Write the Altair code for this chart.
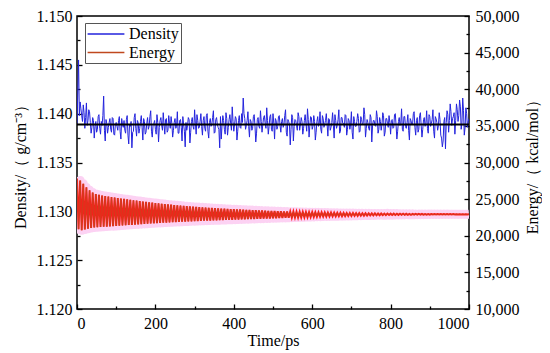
import altair as alt
import pandas as pd

# ---------------- data ----------------
# density sampled every 4 ps (t = 0, 4, ..., 1000)
time_density = list(range(0, 1001, 4))
density = [
    1.1390, 1.1455, 1.1412, 1.1398, 1.1409, 1.1385, 1.1411, 1.1393, 1.1402, 1.1380,
    1.1396, 1.1375, 1.1392, 1.1384, 1.1399, 1.1379, 1.1388, 1.1418, 1.1372, 1.1390,
    1.1386, 1.1395, 1.1381, 1.1395, 1.1378, 1.1391, 1.1383, 1.1397, 1.1374, 1.1389,
    1.1393, 1.1380, 1.1398, 1.1369, 1.1387, 1.1365, 1.1382, 1.1400, 1.1377, 1.1391,
    1.1385, 1.1398, 1.1373, 1.1392, 1.1381, 1.1396, 1.1387, 1.1403, 1.1376, 1.1390,
    1.1384, 1.1399, 1.1371, 1.1393, 1.1388, 1.1401, 1.1379, 1.1395, 1.1383, 1.1390,
    1.1397, 1.1376, 1.1391, 1.1385, 1.1402, 1.1380, 1.1394, 1.1372, 1.1389, 1.1366,
    1.1383, 1.1396, 1.1370, 1.1392, 1.1387, 1.1404, 1.1379, 1.1393, 1.1386, 1.1400,
    1.1378, 1.1397, 1.1382, 1.1400, 1.1375, 1.1395, 1.1389, 1.1403, 1.1381, 1.1396,
    1.1386, 1.1365, 1.1374, 1.1398, 1.1384, 1.1401, 1.1378, 1.1394, 1.1390, 1.1407,
    1.1382, 1.1397, 1.1373, 1.1393, 1.1386, 1.1400, 1.1416, 1.1395, 1.1388, 1.1402,
    1.1376, 1.1392, 1.1385, 1.1399, 1.1371, 1.1394, 1.1387, 1.1403, 1.1381, 1.1396,
    1.1390, 1.1406, 1.1379, 1.1397, 1.1384, 1.1400, 1.1374, 1.1393, 1.1387, 1.1398,
    1.1381, 1.1395, 1.1389, 1.1404, 1.1377, 1.1392, 1.1368, 1.1399, 1.1372, 1.1394,
    1.1388, 1.1401, 1.1383, 1.1396, 1.1379, 1.1393, 1.1390, 1.1405, 1.1376, 1.1397,
    1.1384, 1.1398, 1.1373, 1.1392, 1.1387, 1.1402, 1.1380, 1.1395, 1.1389, 1.1400,
    1.1377, 1.1394, 1.1386, 1.1401, 1.1375, 1.1393, 1.1388, 1.1404, 1.1382, 1.1396,
    1.1390, 1.1399, 1.1378, 1.1395, 1.1384, 1.1402, 1.1374, 1.1392, 1.1387, 1.1400,
    1.1381, 1.1397, 1.1389, 1.1406, 1.1376, 1.1394, 1.1385, 1.1399, 1.1371, 1.1393,
    1.1388, 1.1403, 1.1380, 1.1396, 1.1383, 1.1401, 1.1377, 1.1395, 1.1390, 1.1398,
    1.1379, 1.1394, 1.1386, 1.1400, 1.1374, 1.1392, 1.1388, 1.1405, 1.1382, 1.1397,
    1.1385, 1.1399, 1.1373, 1.1393, 1.1389, 1.1402, 1.1378, 1.1396, 1.1384, 1.1401,
    1.1376, 1.1394, 1.1387, 1.1403, 1.1380, 1.1397, 1.1390, 1.1404, 1.1375, 1.1395,
    1.1383, 1.1401, 1.1378, 1.1366, 1.1392, 1.1364, 1.1403, 1.1381, 1.1410, 1.1388,
    1.1397, 1.1379, 1.1410, 1.1392, 1.1414, 1.1384, 1.1416, 1.1378, 1.1406, 1.1386,
    1.1395,
]
# density between those samples (t = 2, 6, ..., 998)
time_density_mid = list(range(2, 1000, 4))
density_mid = [
    1.1420, 1.1398, 1.1405, 1.1392, 1.1401, 1.1396, 1.1388, 1.1404, 1.1391, 1.1386,
    1.1393, 1.1387, 1.1381, 1.1397, 1.1385, 1.1392, 1.1398, 1.1383, 1.1394, 1.1380,
    1.1391, 1.1384, 1.1396, 1.1379, 1.1390, 1.1387, 1.1393, 1.1382, 1.1395, 1.1386,
    1.1383, 1.1394, 1.1378, 1.1389, 1.1392, 1.1381, 1.1396, 1.1385, 1.1393, 1.1380,
    1.1392, 1.1386, 1.1395, 1.1379, 1.1390, 1.1384, 1.1397, 1.1382, 1.1388, 1.1393,
    1.1379, 1.1391, 1.1386, 1.1396, 1.1383, 1.1389, 1.1394, 1.1381, 1.1398, 1.1385,
    1.1390, 1.1383, 1.1395, 1.1387, 1.1380, 1.1393, 1.1386, 1.1397, 1.1382, 1.1391,
    1.1388, 1.1394, 1.1381, 1.1396, 1.1384, 1.1390, 1.1399, 1.1385, 1.1392, 1.1387,
    1.1393, 1.1385, 1.1398, 1.1382, 1.1391, 1.1387, 1.1396, 1.1380, 1.1394, 1.1389,
    1.1384, 1.1397, 1.1388, 1.1393, 1.1379, 1.1395, 1.1386, 1.1399, 1.1383, 1.1392,
    1.1389, 1.1395, 1.1382, 1.1398, 1.1385, 1.1391, 1.1400, 1.1384, 1.1393, 1.1387,
    1.1394, 1.1383, 1.1397, 1.1388, 1.1380, 1.1396, 1.1385, 1.1392, 1.1389, 1.1398,
    1.1385, 1.1393, 1.1387, 1.1399, 1.1382, 1.1390, 1.1395, 1.1384, 1.1397, 1.1388,
    1.1392, 1.1386, 1.1398, 1.1381, 1.1394, 1.1389, 1.1384, 1.1396, 1.1387, 1.1393,
    1.1383, 1.1397, 1.1389, 1.1392, 1.1385, 1.1399, 1.1382, 1.1394, 1.1388, 1.1396,
    1.1387, 1.1392, 1.1381, 1.1397, 1.1390, 1.1384, 1.1398, 1.1386, 1.1393, 1.1389,
    1.1395, 1.1383, 1.1391, 1.1388, 1.1399, 1.1385, 1.1394, 1.1380, 1.1396, 1.1390,
    1.1386, 1.1398, 1.1384, 1.1393, 1.1389, 1.1381, 1.1397, 1.1387, 1.1392, 1.1395,
    1.1382, 1.1394, 1.1390, 1.1399, 1.1385, 1.1391, 1.1383, 1.1396, 1.1388, 1.1393,
    1.1387, 1.1397, 1.1384, 1.1392, 1.1389, 1.1398, 1.1381, 1.1395, 1.1386, 1.1391,
    1.1393, 1.1385, 1.1399, 1.1388, 1.1382, 1.1396, 1.1390, 1.1384, 1.1397, 1.1387,
    1.1391, 1.1383, 1.1395, 1.1389, 1.1400, 1.1386, 1.1393, 1.1381, 1.1398, 1.1388,
    1.1384, 1.1396, 1.1390, 1.1385, 1.1399, 1.1387, 1.1394, 1.1382, 1.1397, 1.1391,
    1.1388, 1.1394, 1.1375, 1.1372, 1.1396, 1.1391, 1.1399, 1.1393, 1.1402, 1.1395,
    1.1401, 1.1393, 1.1404, 1.1398, 1.1407, 1.1390, 1.1403, 1.1386, 1.1400, 1.1392,
]
density_mean = [1.1389]

# energy oscillation: peaks (t = 0, 8, ..., 1000) and troughs (t = 4, 12, ..., 996)
energy_hi = [
    27800, 27550, 27100, 26600, 26200, 25900, 25700, 25600, 25500, 25420,
    25350, 25280, 25220, 25150, 25090, 25030, 24970, 24910, 24850, 24790,
    24730, 24680, 24620, 24570, 24520, 24470, 24420, 24370, 24330, 24280,
    24240, 24200, 24160, 24120, 24080, 24040, 24000, 23970, 23940, 23910,
    23880, 23850, 23820, 23790, 23760, 23740, 23710, 23690, 23660, 23640,
    23620, 23600, 23580, 23560, 23540, 23520, 23500, 23480, 23460, 23440,
    23420, 23400, 23390, 23370, 23350, 23340, 23320, 23310, 23290, 23280,
    23270, 23250, 23240, 23230, 23220, 23210, 23200, 23190, 23180, 23170,
    23160, 23150, 23140, 23130, 23120, 23110, 23100, 23095, 23090, 23080,
    23075, 23070, 23060, 23055, 23050, 23045, 23040, 23035, 23030, 23025,
    23020, 23015, 23010, 23005, 23000, 22995, 22990, 22985, 22980, 22978,
    22975, 22972, 22970, 22968, 22965, 22962, 22960, 22958, 22955, 22952,
    22950, 22948, 22946, 22944, 22942, 22940,
]
energy_lo = [
    20900, 20750, 20850, 20950, 21050, 21120, 21160, 21190, 21220, 21250,
    21280, 21310, 21340, 21370, 21400, 21430, 21460, 21490, 21520, 21550,
    21580, 21610, 21640, 21670, 21700, 21725, 21750, 21775, 21800, 21825,
    21850, 21870, 21890, 21910, 21930, 21950, 21970, 21990, 22010, 22030,
    22050, 22065, 22080, 22095, 22110, 22125, 22140, 22155, 22170, 22185,
    22200, 22215, 22230, 22245, 22260, 22275, 22290, 22305, 22320, 22335,
    22350, 22365, 22380, 22395, 22410, 22425, 22440, 22455, 22470, 22485,
    22500, 22515, 22530, 22545, 22560, 22575, 22590, 22605, 22620, 22630,
    22640, 22650, 22660, 22670, 22680, 22690, 22700, 22710, 22720, 22730,
    22740, 22750, 22760, 22770, 22780, 22790, 22800, 22810, 22820, 22830,
    22835, 22840, 22845, 22850, 22855, 22860, 22865, 22870, 22875, 22880,
    22885, 22890, 22892, 22894, 22896, 22898, 22900, 22902, 22904, 22906,
    22908, 22910, 22912, 22914, 22916,
]
time_hi = list(range(0, 1001, 8))
time_lo = list(range(4, 1000, 8))

series_names = ["Density", "Energy"]
x_labels = [0, 200, 400, 600, 800, 1000]
x_ticks = [0, 100, 200, 300, 400, 500, 600, 700, 800, 900, 1000]
density_labels = [1.120, 1.125, 1.130, 1.135, 1.140, 1.145, 1.150]
density_ticks = [1.1200, 1.1225, 1.1250, 1.1275, 1.1300, 1.1325, 1.1350,
                 1.1375, 1.1400, 1.1425, 1.1450, 1.1475, 1.1500]
energy_labels = [10000, 15000, 20000, 25000, 30000, 35000, 40000, 45000, 50000]
energy_ticks = [10000, 12500, 15000, 17500, 20000, 22500, 25000, 27500, 30000,
                32500, 35000, 37500, 40000, 42500, 45000, 47500, 50000]

# ---------------- tables ----------------
dens_df = pd.concat([
    pd.DataFrame({"t": time_density, "value": density}),
    pd.DataFrame({"t": time_density_mid, "value": density_mid}),
]).sort_values("t").reset_index(drop=True)
dens_df["series"] = series_names[0]
en_df = pd.concat([
    pd.DataFrame({"t": time_hi, "value": energy_hi}),
    pd.DataFrame({"t": time_lo, "value": energy_lo}),
]).sort_values("t").reset_index(drop=True)
en_df["series"] = series_names[1]
mean_df = pd.DataFrame({"t0": [x_labels[0]], "t1": [x_labels[-1]], "value": density_mean})

# ---------------- styling ----------------
W, H = 392, 293
FONT = "Liberation Serif"
FS = 16

x_scale = alt.Scale(domain=[0, 1000], nice=False, zero=False)
yd_scale = alt.Scale(domain=[1.12, 1.15], nice=False, zero=False)
ye_scale = alt.Scale(domain=[10000, 50000], nice=False, zero=False)
color_scale = alt.Scale(domain=series_names, range=["#2323dd", "#c0481e"])

legend = alt.Legend(
    title=None, orient="none", legendX=8, legendY=7,
    symbolType="M-2.3,0H2.3", symbolSize=256, symbolStrokeWidth=1.5,
    symbolOffset=10, labelOffset=14,
    labelFontSize=FS, labelFont=FONT, labelColor="black",
    padding=2, rowPadding=1.5,
    strokeColor="#555555", fillColor="white", labelLimit=200,
)

common = dict(grid=False, labelFont=FONT, titleFont=FONT, labelFontSize=FS,
              titleFontSize=FS, labelColor="black", titleColor="black",
              titleFontWeight="normal", labelOverlap=False)

ax_x_main = alt.Axis(orient="bottom", values=x_labels, format="d", ticks=False,
                     domain=False, labelPadding=6, title="Time/ps", titlePadding=1,
                     **common)
ax_yd_main = alt.Axis(orient="left", values=density_labels, format=".3f", ticks=False,
                      domain=False, labelPadding=5, title="Density/（ g/cm⁻³）",
                      titlePadding=8, **common)
ax_ye_main = alt.Axis(orient="right", values=energy_labels, format=",d", ticks=False,
                      domain=False, labelPadding=6, title="Energy/（ kcal/mol）",
                      titleAngle=270, titleBaseline="top", titlePadding=5, **common)

tick_common = dict(labels=False, domain=False, grid=False, title=None, ticks=True,
                   tickColor="black", tickWidth=1.3)
ax_x_ticks = alt.Axis(orient="top", offset=-H, values=x_ticks,
                      tickSize={"condition": {"test": "datum.value % 200 == 0", "value": 5}, "value": 3},
                      **tick_common)
ax_yd_ticks = alt.Axis(orient="right", offset=-W, values=density_ticks,
                       tickSize={"condition": {"test": "round(datum.value * 10000) % 50 == 0", "value": 5}, "value": 3},
                       **tick_common)
ax_ye_ticks = alt.Axis(orient="left", offset=-W, values=energy_ticks,
                       tickSize={"condition": {"test": "datum.value % 5000 == 0", "value": 5}, "value": 3},
                       **tick_common)

# ---------------- layers (flat) ----------------
en_base = alt.Chart(en_df).encode(x=alt.X("t:Q", scale=x_scale, axis=None))
pink = en_base.mark_line(color="#fcd2f3", strokeWidth=9, strokeJoin="round", clip=True).encode(
    y=alt.Y("value:Q", scale=ye_scale, axis=ax_ye_main))
red = en_base.mark_line(color="#ff1a1a", strokeWidth=2, clip=True).encode(
    y=alt.Y("value:Q", scale=ye_scale, axis=None))
brown = en_base.mark_line(strokeWidth=0.7, clip=True).encode(
    y=alt.Y("value:Q", scale=ye_scale, axis=None),
    color=alt.Color("series:N", scale=color_scale, legend=legend))

dens_line = alt.Chart(dens_df).mark_line(strokeWidth=1, clip=True).encode(
    x=alt.X("t:Q", scale=x_scale, axis=ax_x_main),
    y=alt.Y("value:Q", scale=yd_scale, axis=ax_yd_main),
    color=alt.Color("series:N", scale=color_scale, legend=legend))
mean_rule = alt.Chart(mean_df).mark_rule(color="black", strokeWidth=2).encode(
    x=alt.X("t0:Q", scale=x_scale, axis=None), x2="t1:Q",
    y=alt.Y("value:Q", scale=yd_scale, axis=None))

dens_ticks = alt.Chart(dens_df).mark_line(strokeOpacity=0).encode(
    x=alt.X("t:Q", scale=x_scale, axis=ax_x_ticks),
    y=alt.Y("value:Q", scale=yd_scale, axis=ax_yd_ticks))
en_ticks = alt.Chart(en_df).mark_line(strokeOpacity=0).encode(
    x=alt.X("t:Q", scale=x_scale, axis=None),
    y=alt.Y("value:Q", scale=ye_scale, axis=ax_ye_ticks))

chart = (
    alt.layer(pink, red, brown, dens_line, mean_rule, dens_ticks, en_ticks)
    .resolve_scale(y="independent")
    .resolve_axis(x="independent", y="independent")
    .properties(
        width=W, height=H,
        autosize=alt.AutoSizeParams(type="none"),
        padding={"left": 69, "top": 8, "right": 73, "bottom": 42},
    )
    .configure(font=FONT)
    .configure_axis(labelFont=FONT, titleFont=FONT, titleFontWeight="normal")
    .configure_view(stroke="black", strokeWidth=1.5)
)

chart.save("out.html", embed_options={"renderer": "svg", "actions": False})
